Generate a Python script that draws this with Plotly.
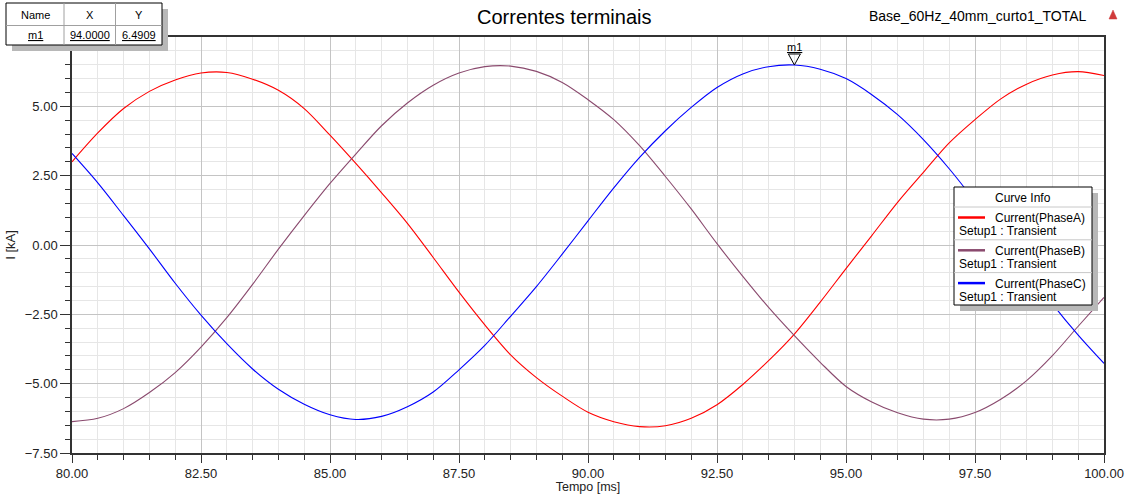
import plotly.graph_objects as go

# Sample times (ms)
time_ms = [80.0, 80.5, 81.0, 81.5, 82.0, 82.5, 83.0, 83.5, 84.0, 84.5,
           85.0, 85.5, 86.0, 86.5, 87.0, 87.5, 88.0, 88.5, 89.0, 89.5,
           90.0, 90.5, 91.0, 91.5, 92.0, 92.5, 93.0, 93.5, 94.0, 94.5,
           95.0, 95.5, 96.0, 96.5, 97.0, 97.5, 98.0, 98.5, 99.0, 99.5,
           100.0]

# Terminal currents (kA)
phase_a = [3.00, 4.04, 4.92, 5.54, 5.95, 6.20, 6.22, 5.98, 5.58, 4.92,
           3.96, 2.94, 1.88, 0.78, -0.45, -1.70, -2.88, -3.96, -4.78, -5.45,
           -6.03, -6.37, -6.55, -6.52, -6.25, -5.76, -5.03, -4.17, -3.21, -2.06,
           -0.85, 0.34, 1.54, 2.62, 3.68, 4.52, 5.27, 5.80, 6.13, 6.25,
           6.11]
phase_b = [-6.37, -6.25, -5.90, -5.32, -4.60, -3.68, -2.62, -1.42, -0.15, 1.06,
           2.22, 3.28, 4.30, 5.12, 5.76, 6.20, 6.43, 6.45, 6.26, 5.86,
           5.24, 4.52, 3.58, 2.47, 1.30, 0.05, -1.13, -2.25, -3.27, -4.23,
           -5.10, -5.66, -6.05, -6.28, -6.28, -6.04, -5.56, -4.89, -3.99, -2.93,
           -1.89]
phase_c = [3.30, 2.24, 1.06, -0.14, -1.38, -2.53, -3.56, -4.47, -5.20, -5.74,
           -6.12, -6.29, -6.18, -5.83, -5.30, -4.50, -3.62, -2.57, -1.50, -0.33,
           0.87, 2.06, 3.16, 4.12, 4.96, 5.68, 6.17, 6.43, 6.49, 6.34,
           6.00, 5.42, 4.70, 3.80, 2.75, 1.58, 0.36, -0.86, -2.12, -3.25,
           -4.27]

series_names = ["Current(PhaseA)", "Current(PhaseB)", "Current(PhaseC)"]
series_colors = ["#ff0000", "#8a4a6e", "#0000ff"]
series_setup = "Setup1 : Transient"

# Marker m1
marker_names = ["m1"]
marker_x = [94.0]
marker_y = [6.4909]

x_ticks = [80.0, 82.5, 85.0, 87.5, 90.0, 92.5, 95.0, 97.5, 100.0]
y_ticks = [-7.5, -5.0, -2.5, 0.0, 2.5, 5.0]

FONT = "Arial, 'Liberation Sans', sans-serif"
FIG_W, FIG_H = 1127, 494
PL, PR, PT, PB = 72, 1104, 37, 453  # plot area in pixels


def px(x):
    return (x - PL) / (PR - PL)


def py(y):
    return (PB - y) / (PB - PT)


fig = go.Figure()
for name, col, ys in zip(series_names, series_colors, [phase_a, phase_b, phase_c]):
    fig.add_trace(go.Scatter(x=time_ms, y=ys, mode="lines", name=name,
                             line=dict(color=col, width=1.1, shape="spline", smoothing=0.9),
                             showlegend=False, hoverinfo="x+y"))

shapes = []
annotations = []

# Title and project name
annotations.append(dict(text="Correntes terminais", x=px(564), y=py(17),
                        xref="paper", yref="paper",
                        showarrow=False, xanchor="center", yanchor="middle",
                        font=dict(family=FONT, size=20, color="#000")))
annotations.append(dict(text="Base_60Hz_40mm_curto1_TOTAL", x=px(1089), y=py(16),
                        xref="paper", yref="paper", showarrow=False,
                        xanchor="right", yanchor="middle",
                        font=dict(family=FONT, size=14, color="#000")))
# small logo glyph
shapes.append(dict(type="path", xref="paper", yref="paper",
                   path=f"M {px(1109)} {py(19)} L {px(1117)} {py(19)} L {px(1113)} {py(10)} Z",
                   fillcolor="#d03a3a", line=dict(color="#d03a3a", width=0.5), layer="above"))

# Marker glyph and label
for mn, mx, my in zip(marker_names, marker_x, marker_y):
    shapes.append(dict(type="path", xref="x", yref="y", xsizemode="pixel", ysizemode="pixel",
                       xanchor=mx, yanchor=my, path="M -6 11 L 6 11 L 0 0 Z",
                       fillcolor="rgba(255,255,255,0)", line=dict(color="#000", width=1),
                       layer="above"))
    annotations.append(dict(text=f"<u>{mn}</u>", x=mx, y=my, xref="x", yref="y",
                            yshift=18, showarrow=False, xanchor="center", yanchor="middle",
                            font=dict(family=FONT, size=11, color="#000")))

# Marker table
tx0, tx1, ty0, ty1 = 6, 162, 3, 45
shapes.append(dict(type="rect", xref="paper", yref="paper",
                   x0=px(tx0 + 6), x1=px(tx1 + 6), y0=py(ty0 + 6), y1=py(ty1 + 6),
                   fillcolor="#b8b8b8", line=dict(width=0), layer="above"))
shapes.append(dict(type="rect", xref="paper", yref="paper",
                   x0=px(tx0), x1=px(tx1), y0=py(ty0), y1=py(ty1),
                   fillcolor="#ffffff", line=dict(color="#000", width=1), layer="above"))
shapes.append(dict(type="line", xref="paper", yref="paper", x0=px(tx0), x1=px(tx1),
                   y0=py(25.5), y1=py(25.5), line=dict(color="#a0a0a0", width=1), layer="above"))
for cx in (64, 115.5):
    shapes.append(dict(type="line", xref="paper", yref="paper", x0=px(cx), x1=px(cx),
                       y0=py(ty0), y1=py(ty1), line=dict(color="#a0a0a0", width=1), layer="above"))
col_centers = [35, 90, 139]
for c, t in zip(col_centers, ["Name", "X", "Y"]):
    annotations.append(dict(text=t, x=px(c), y=py(15), xref="paper", yref="paper",
                            showarrow=False, xanchor="center", yanchor="middle",
                            font=dict(family=FONT, size=11, color="#000")))
for mn, mx, my in zip(marker_names, marker_x, marker_y):
    for c, t in zip(col_centers, [mn, f"{mx:.4f}", f"{my:.4f}"]):
        annotations.append(dict(text=f"<u>{t}</u>", x=px(c), y=py(35), xref="paper", yref="paper",
                                showarrow=False, xanchor="center", yanchor="middle",
                                font=dict(family=FONT, size=11, color="#000")))

# Curve info box
lx0, lx1, ly0, ly1 = 954, 1092, 187, 305
shapes.append(dict(type="rect", xref="paper", yref="paper",
                   x0=px(lx0 + 6), x1=px(lx1 + 6), y0=py(ly0 + 6), y1=py(ly1 + 6),
                   fillcolor="#b8b8b8", line=dict(width=0), layer="above"))
shapes.append(dict(type="rect", xref="paper", yref="paper",
                   x0=px(lx0), x1=px(lx1), y0=py(ly0), y1=py(ly1),
                   fillcolor="#ffffff", line=dict(color="#000", width=1), layer="above"))
annotations.append(dict(text="Curve Info", x=px((lx0 + lx1) / 2), y=py(197.5),
                        xref="paper", yref="paper", showarrow=False,
                        xanchor="center", yanchor="middle",
                        font=dict(family=FONT, size=12, color="#000")))
row_h = 32.8
for i, (name, col) in enumerate(zip(series_names, series_colors)):
    top = 207 + i * row_h
    shapes.append(dict(type="line", xref="paper", yref="paper", x0=px(lx0), x1=px(lx1),
                       y0=py(top), y1=py(top), line=dict(color="#c8c8c8", width=1), layer="above"))
    shapes.append(dict(type="line", xref="paper", yref="paper", x0=px(958), x1=px(985),
                       y0=py(top + 10.5), y1=py(top + 10.5), line=dict(color=col, width=2.5),
                       layer="above"))
    annotations.append(dict(text=name, x=px(993), y=py(top + 11), xref="paper", yref="paper",
                            showarrow=False, xanchor="left", yanchor="middle",
                            font=dict(family=FONT, size=12, color="#000")))
    annotations.append(dict(text=series_setup, x=px(957), y=py(top + 24), xref="paper",
                            yref="paper", showarrow=False, xanchor="left", yanchor="middle",
                            font=dict(family=FONT, size=12, color="#000")))

axis_common = dict(showline=True, linecolor="#333", linewidth=1.5, mirror=True,
                   ticks="outside", tickcolor="#333", tickwidth=1,
                   showgrid=True, gridcolor="#c4c4c4", gridwidth=1, zeroline=False,
                   tickfont=dict(family=FONT, size=13, color="#222"),
                   tickformat=".2f")

fig.update_layout(
    width=FIG_W, height=FIG_H,
    margin=dict(l=PL, r=FIG_W - PR, t=PT, b=FIG_H - PB, autoexpand=False),
    paper_bgcolor="#ffffff", plot_bgcolor="#ffffff",
    xaxis=dict(range=[80, 100], tickvals=x_ticks, ticklen=8,
               minor=dict(dtick=0.5, tick0=80, ticks="outside", ticklen=5, tickcolor="#333",
                          showgrid=True, gridcolor="#e6e6e6"),
               title=dict(text="Tempo [ms]", font=dict(family=FONT, size=12.5, color="#222"),
                          standoff=6),
               **axis_common),
    yaxis=dict(range=[-7.5, 7.5], tickvals=y_ticks, ticklen=10,
               minor=dict(dtick=0.5, tick0=0, ticks="outside", ticklen=5, tickcolor="#333",
                          showgrid=True, gridcolor="#e6e6e6"),
               title=dict(text="I [kA]", font=dict(family=FONT, size=13, color="#222"),
                          standoff=6),
               **axis_common),
    shapes=shapes,
    annotations=annotations,
    showlegend=False,
)

fig.write_html("out.html")
